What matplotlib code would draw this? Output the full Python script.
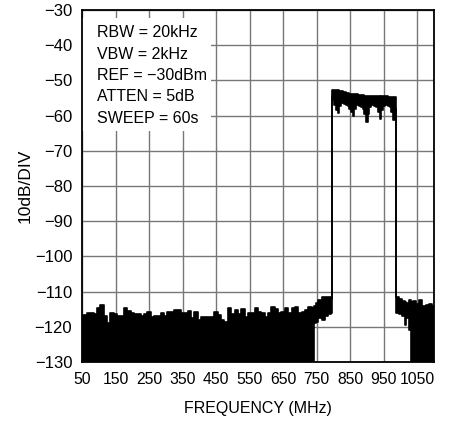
import matplotlib
matplotlib.use('Agg')
import matplotlib.pyplot as plt
from matplotlib.patches import Rectangle

plt.rcParams['font.family'] = ['Liberation Sans', 'DejaVu Sans']
plt.rcParams['font.size'] = 11.5

# noise floor below the carrier (read every 10 MHz, bottom clipped at -130)
low_freq = list(range(50, 750, 10)) + [746, 750, 760, 770, 780, 790, 796]
low_top = [-116.7, -116.7, -116.0, -116.2, -116.5, -114.8, -113.8, -117.0, -119.0, -116.2,
           -116.5, -116.8, -116.8, -114.8, -115.5, -116.2, -116.5, -116.5, -116.8, -116.5,
           -115.8, -117.2, -116.8, -116.8, -116.0, -117.0, -115.8, -115.8, -115.2, -115.3,
           -116.0, -116.2, -115.5, -117.5, -115.7, -118.0, -117.1, -117.1, -117.1, -117.1,
           -115.7, -116.6, -118.0, -118.5, -114.8, -116.5, -115.2, -116.5, -115.0, -117.1,
           -116.2, -116.2, -114.8, -115.7, -116.2, -117.1, -116.2, -114.5, -115.0, -116.2,
           -115.7, -114.8, -116.2, -114.8, -114.3, -116.2, -115.7, -115.2, -114.5, -114.8,
           -114.0, -113.3, -112.5, -111.5, -111.4, -111.5, -112.0]
low_bot = [-130] * 70 + [-119.0, -118.5, -117.5, -118.0, -117.0, -116.5, -116.0]

# carrier band, 800-985 MHz
band_freq = [797] + list(range(800, 990, 5)) + [987]
band_top = [-52.8, -52.7, -52.6, -52.7, -52.8, -52.9, -53.0, -53.2, -53.4, -53.5,
            -53.6, -53.8, -53.9, -53.9, -54.0, -54.0, -54.1, -54.1, -54.2, -54.2,
            -54.3, -54.4, -54.3, -54.3, -54.3, -54.4, -54.4, -54.4, -54.5, -54.6,
            -54.5, -54.5, -54.5, -54.5, -54.6, -54.6, -54.7, -54.7, -54.8, -55.0]
band_bot = [-54.5, -55.5, -57.0, -58.5, -59.4, -57.2, -56.5, -56.5, -56.8, -57.0,
            -57.3, -58.0, -59.0, -60.1, -58.0, -57.0, -57.0, -57.2, -57.5, -58.0,
            -59.5, -61.7, -59.5, -57.5, -57.0, -57.0, -57.2, -57.5, -59.0, -61.0,
            -58.5, -57.3, -57.0, -57.0, -57.2, -57.5, -59.0, -61.2, -59.0, -58.0]

# noise above the carrier
high_freq = [988, 990, 1000, 1010, 1015, 1020, 1030, 1035, 1040, 1050, 1060, 1070, 1080, 1090, 1100]
high_top = [-111.5, -111.5, -112.0, -112.8, -113.0, -113.3, -112.5, -113.0, -112.8, -113.5,
            -112.3, -114.0, -113.8, -113.5, -114.0]
high_bot = [-116.2, -116.0, -116.5, -117.0, -119.5, -117.5, -121.0, -130, -130, -130,
            -130, -130, -130, -130, -130]

x_ticks = [50, 150, 250, 350, 450, 550, 650, 750, 850, 950, 1050]
y_ticks = [-130, -120, -110, -100, -90, -80, -70, -60, -50, -40, -30]
settings = ['RBW = 20kHz', 'VBW = 2kHz', 'REF = \u221230dBm', 'ATTEN = 5dB', 'SWEEP = 60s']

freq = low_freq + band_freq + high_freq
top = low_top + band_top + high_top
bot = low_bot + band_bot + high_bot

fig = plt.figure(figsize=(4.49, 4.22), dpi=100)
ax = fig.add_axes([82 / 449, 60 / 422, 352 / 449, 352 / 422])

ax.set_xlim(50, 1100)
ax.set_ylim(-130, -30)
ax.set_xticks(x_ticks)
ax.set_yticks(y_ticks)
ax.grid(True, color='#777777', linewidth=1.0)
ax.set_axisbelow(True)
ax.tick_params(axis='y', length=0, pad=7, labelsize=12)
ax.tick_params(axis='x', length=0, pad=7, labelsize=11.3)
for sp in ax.spines.values():
    sp.set_linewidth(1.3)
    sp.set_color('black')

# white panel behind the settings text
ax.add_patch(Rectangle((0, 0.656), 0.366, 0.322, transform=ax.transAxes,
                       facecolor='white', edgecolor='none', zorder=1.5))
for i, s in enumerate(settings):
    ax.text(95, -36.5 - 6.05 * i, s, ha='left', va='center', fontsize=11.5, zorder=3)

# spectrum trace
ax.fill_between(freq, bot, top, step='mid', color='black', linewidth=0, zorder=2)
ax.plot(freq, top, drawstyle='steps-mid', color='black', linewidth=1.2, zorder=2)
ax.plot(freq, bot, drawstyle='steps-mid', color='black', linewidth=1.2, zorder=2)

ax.set_xlabel('FREQUENCY (MHz)', fontsize=11.5, labelpad=10)
ax.set_ylabel('10dB/DIV', fontsize=12.5)
ax.yaxis.set_label_coords(-0.14, 0.5)

plt.savefig('out.png', dpi=100)
